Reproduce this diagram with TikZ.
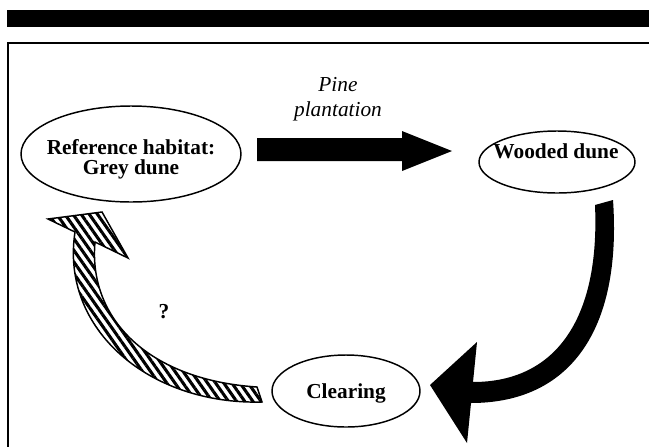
\documentclass[tikz,border=0pt]{standalone}
\usepackage{fontspec}
\setmainfont{Liberation Serif}
\usetikzlibrary{patterns.meta}

\tikzset{
  habitat/.style={font=\bfseries\fontsize{16}{15}\selectfont, align=center, inner sep=0pt},
  process/.style={font=\itshape\fontsize{16}{18.75}\selectfont, align=center, inner sep=0pt},
  rim/.style={line width=1.1pt},
  hatch/.style={draw, line width=1.1pt, line join=miter,
    pattern={Lines[angle=-55,distance=5pt,line width=2.3pt]}},
}

\begin{document}
\begin{tikzpicture}[x=0.75pt,y=-0.75pt]
\useasboundingbox (0,0) rectangle (649,447);

% Frame
\fill (7,10) rectangle (649,27);
\draw[rim] (649,43) -- (8,43) -- (8,447);

% Habitats
\coordinate (refc) at (131,154);
\coordinate (woodc) at (557,162);
\coordinate (clearc) at (346,391);
\draw[rim] (refc) ellipse [x radius=110, y radius=48];
\draw[rim] (woodc) ellipse [x radius=78, y radius=31];
\draw[rim] (clearc) ellipse [x radius=74, y radius=36];

\node[habitat] (ref) at (131,159) {Reference habitat:\\Grey dune};
\node[habitat, anchor=base] (wood) at (556,158) {Wooded dune};
\node[habitat, anchor=base] (clear) at (346,398) {Clearing};

% Pine plantation
\fill (257,138) -- (402,138) -- (402,131) -- (452,151) -- (402,171)
  -- (402,161) -- (257,161) -- cycle;
\node[process] (pine) at (338,99.5) {Pine\\plantation};

% Wooded dune to clearing
\fill (595,205) -- (613,200) .. controls (622,330) and (570,403) .. (471,403)
  -- (467,443) -- (430,385) -- (477,342) -- (473,382)
  .. controls (555,382) and (600,320) .. (595,205) -- cycle;

% Clearing back to grey dune
\draw[hatch] (257,387) .. controls (150,380) and (88,320) .. (95,242)
  -- (128,258) -- (102,212) -- (48,219) -- (75,232)
  .. controls (60,330) and (150,405) .. (262,402) -- cycle;
\node[habitat, anchor=base] (query) at (164,318) {?};
\end{tikzpicture}
\end{document}
